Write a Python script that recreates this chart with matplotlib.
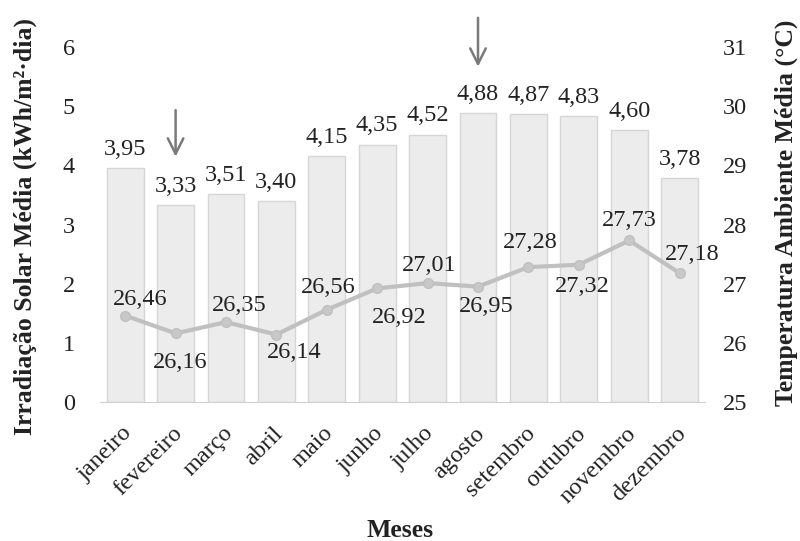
import matplotlib
matplotlib.use("Agg")
import matplotlib.pyplot as plt
import matplotlib.transforms as mtransforms
import numpy as np

plt.rcParams['font.family'] = ['Liberation Serif', 'DejaVu Serif']

meses = ["janeiro", "fevereiro", "março", "abril", "maio", "junho", "julho",
         "agosto", "setembro", "outubro", "novembro", "dezembro"]
irradiacao = [3.95, 3.33, 3.51, 3.40, 4.15, 4.35, 4.52, 4.88, 4.87, 4.83, 4.60, 3.78]
temperatura = [26.46, 26.16, 26.35, 26.14, 26.56, 26.92, 27.01, 26.95, 27.28, 27.32, 27.73, 27.18]
# label offsets (pixels) for temperature labels
temp_off = [(15, 16), (5, -29), (13, 17), (18, -18), (1, 22), (22, -29),
            (2, 18), (8, -20), (2, 25), (4, -22), (0, 20), (13, 19)]
arrow_months = [1, 7]
arrow_tail = [4.98, 6.54]
arrow_tip = [4.10, 5.62]

FS = 17.5
fig = plt.figure(figsize=(8, 5.41), dpi=100)
ax = fig.add_axes([0.125, 0.2569, 0.756, 0.6562])
x = np.arange(len(meses))
ax.bar(x, irradiacao, width=0.73, color='#ececec', edgecolor='#d6d6d6', linewidth=1, zorder=1)
ax.set_xlim(-0.5, 11.5)
ax.set_ylim(0, 6)
ax.set_yticks(range(0, 7))
for s in ['top', 'right', 'left']:
    ax.spines[s].set_visible(False)
ax.spines['bottom'].set_color('#d0d0d0')
ax.tick_params(axis='both', length=0, labelsize=FS, colors='#222222')
ax.tick_params(axis='y', pad=18)
ax.set_xticks(x)
ax.set_xticklabels(meses, rotation=45, ha='right', rotation_mode='anchor')
ax.tick_params(axis='x', pad=15)
shift = mtransforms.ScaledTranslation(-4 / 100, 0, fig.dpi_scale_trans)
for lbl in ax.get_xticklabels():
    lbl.set_transform(lbl.get_transform() + shift)
for xi, v in zip(x, irradiacao):
    ax.annotate(f"{v:.2f}".replace('.', ','), (xi, v), xytext=(0, 6),
                textcoords='offset points', ha='center', va='bottom',
                fontsize=FS, color='#222222')

ax2 = ax.twinx()
ax2.set_ylim(25, 31)
ax2.set_yticks(range(25, 32))
for s in ['top', 'right', 'left', 'bottom']:
    ax2.spines[s].set_visible(False)
ax2.tick_params(axis='y', length=0, labelsize=FS, pad=13, colors='#222222')
ax2.plot(x, temperatura, color='#c0c0c0', linewidth=3, marker='o', markersize=7,
         markerfacecolor='#c8c8c8', markeredgecolor='#c0c0c0', zorder=3)
for xi, v, (dx, dy) in zip(x, temperatura, temp_off):
    ax2.annotate(f"{v:.2f}".replace('.', ','), (xi, v), xytext=(dx * 0.72, dy * 0.72),
                 textcoords='offset points', ha='center', va='center',
                 fontsize=FS, color='#222222')

for m, t0, t1 in zip(arrow_months, arrow_tail, arrow_tip):
    ax.annotate('', xy=(m, t1), xytext=(m, t0), annotation_clip=False,
                arrowprops=dict(arrowstyle='->', color='#7a7a7a', lw=1.8,
                                mutation_scale=28))

fig.text(0.031, 0.582, "Irradiação Solar Média (kWh/m²·dia)", rotation=90,
         ha='center', va='center', fontsize=18.5, fontweight='bold', color='#222222')
fig.text(0.983, 0.606, "Temperatura Ambiente Média (°C)", rotation=90,
         ha='center', va='center', fontsize=18.5, fontweight='bold', color='#222222')
fig.text(0.5, 0.02, "Meses", ha='center', va='center', fontsize=18.5,
         fontweight='bold', color='#222222')

fig.savefig("out.png", dpi=100)
